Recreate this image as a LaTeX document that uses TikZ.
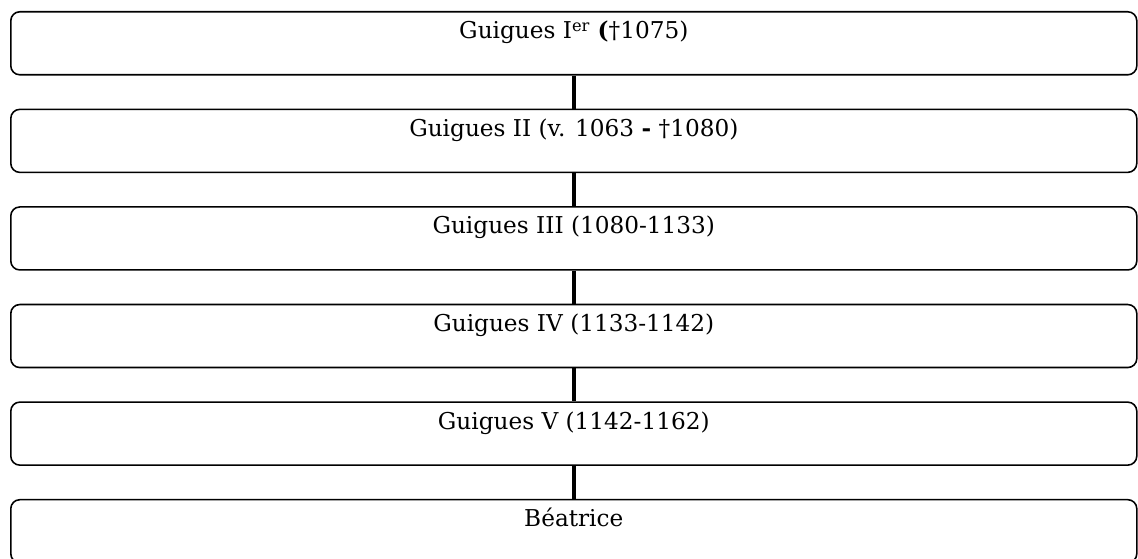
\documentclass[tikz,border=0pt]{standalone}
\usepackage{fontspec}
\setmainfont{DejaVu Serif}
\usetikzlibrary{positioning}

\begin{document}
\begin{tikzpicture}[
    person/.style={draw, line width=0.9pt, rounded corners=0.18cm, inner sep=0pt,
      minimum width=22.52cm, text height=0.54cm, text depth=0.72cm,
      font=\fontsize{13.2}{15}\selectfont},
    link/.style={line width=2.4pt}]
  \useasboundingbox (0,0) rectangle (22.76,-11.18);
  \node[person, anchor=north west] (guigues1) at (0.2,-0.22)
    {Guigues I\textsuperscript{er} \textbf{(}†1075)};
  \node[person, below=0.66cm of guigues1] (guigues2) {Guigues II (v. 1063 \textbf{-} †1080)};
  \node[person, below=0.66cm of guigues2] (guigues3) {Guigues III (1080-1133)};
  \node[person, below=0.66cm of guigues3] (guigues4) {Guigues IV (1133-1142)};
  \node[person, below=0.66cm of guigues4] (guigues5) {Guigues V (1142-1162)};
  \node[person, below=0.66cm of guigues5] (beatrice) {Béatrice};
  \draw[link] (guigues1) -- (guigues2);
  \draw[link] (guigues2) -- (guigues3);
  \draw[link] (guigues3) -- (guigues4);
  \draw[link] (guigues4) -- (guigues5);
  \draw[link] (guigues5) -- (beatrice);
\end{tikzpicture}
\end{document}
